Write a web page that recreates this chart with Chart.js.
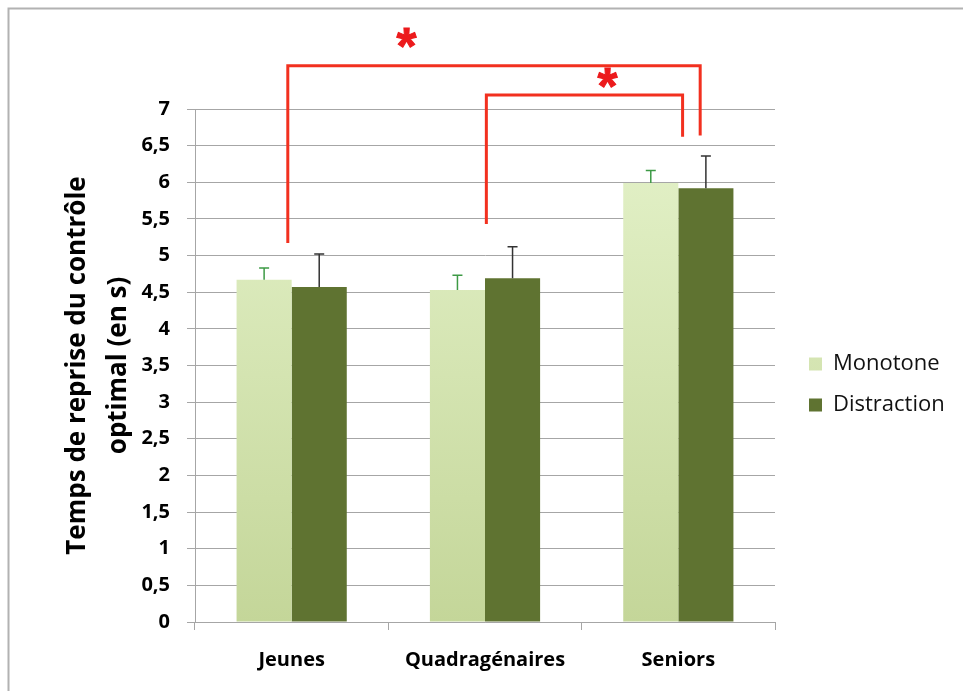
<!DOCTYPE html>
<html>
<head>
<meta charset="utf-8">
<script src="https://cdn.jsdelivr.net/npm/chart.js@4.4.1/dist/chart.umd.min.js"></script>
<style>
  html, body { margin: 0; padding: 0; background: #ffffff; }
  canvas { display: block; }
</style>
</head>
<body>
<canvas id="chart" width="963" height="691"></canvas>
<script>
// Group means and upper error (SEM) for the two listening conditions
const categories = ['Jeunes', 'Quadragénaires', 'Seniors'];
const seriesNames = ['Monotone', 'Distraction'];
const monotone = [4.67, 4.53, 5.99];
const distraction = [4.57, 4.69, 5.92];
const monotoneErr = [0.16, 0.20, 0.17];
const distractionErr = [0.45, 0.43, 0.44];
const yTitle = ['Temps de reprise du contrôle', 'optimal (en s)'];
const yMin = 0, yMax = 7, yStep = 0.5;

// Significance brackets, in category-index / value units
const bracketFrom = [-0.02, 1.007];
const bracketTo = [2.113, 2.022];
const bracketFromY = [5.17, 5.43];
const bracketTopY = [7.59, 7.19];
const bracketToY = [6.64, 6.62];
const starX = [0.594, 1.634];
const starY = [7.97, 7.42];
const starText = '*';

const FONT = '"Open Sans", "Liberation Sans", sans-serif';
const LEGEND_FONT_SIZE = 22;
const LEGEND_BOX = 13;
const LEGEND_PAD = 19;

// Width the legend will claim, so the plot can end at a fixed right edge
function legendWidth() {
  const c = document.createElement('canvas').getContext('2d');
  c.font = LEGEND_FONT_SIZE + 'px ' + FONT;
  const w = Math.max(...seriesNames.map(s => c.measureText(s).width));
  return LEGEND_PAD + LEGEND_BOX + LEGEND_FONT_SIZE / 2 + w + 10;
}
const PLOT_RIGHT = 775;
const padRight = 963 - PLOT_RIGHT - legendWidth();

function lightFill(context) {
  const area = context.chart.chartArea;
  if (!area) return '#d4e5ae';
  const g = context.chart.ctx.createLinearGradient(0, area.top, 0, area.bottom);
  g.addColorStop(0, '#e5f3cb');
  g.addColorStop(1, '#c4d699');
  return g;
}

const framePlugin = {
  id: 'frame',
  beforeDraw(chart) {
    const ctx = chart.ctx;
    ctx.save();
    ctx.fillStyle = '#ffffff';
    ctx.fillRect(0, 0, chart.width, chart.height);
    ctx.strokeStyle = '#b2b2b2';
    ctx.lineWidth = 2;
    ctx.beginPath();
    ctx.moveTo(8.5, chart.height);
    ctx.lineTo(8.5, 8.5);
    ctx.lineTo(chart.width, 8.5);
    ctx.stroke();
    ctx.restore();
  }
};

// Place the legend column beside the plot
const legendPlacePlugin = {
  id: 'legendPlace',
  afterLayout(chart) {
    const lg = chart.legend;
    if (!lg) return;
    const dx = 809 - (lg.left + LEGEND_PAD);
    lg.left += dx; lg.right += dx;
    const h = lg.bottom - lg.top;
    lg.top = 384.5 - h / 2;
    lg.bottom = lg.top + h;
  }
};

const errorBarPlugin = {
  id: 'errorBars',
  afterDatasetsDraw(chart) {
    const ctx = chart.ctx;
    const y = chart.scales.y;
    const specs = [
      { ds: 0, err: monotoneErr, color: '#3d9a45' },
      { ds: 1, err: distractionErr, color: '#333333' }
    ];
    ctx.save();
    ctx.lineWidth = 1.5;
    specs.forEach(s => {
      const meta = chart.getDatasetMeta(s.ds);
      const values = chart.data.datasets[s.ds].data;
      ctx.strokeStyle = s.color;
      meta.data.forEach((bar, i) => {
        const top = y.getPixelForValue(values[i] + s.err[i]);
        ctx.beginPath();
        ctx.moveTo(bar.x, bar.y);
        ctx.lineTo(bar.x, top);
        ctx.moveTo(bar.x - 5, top);
        ctx.lineTo(bar.x + 5, top);
        ctx.stroke();
      });
    });
    ctx.restore();
  }
};

const bracketPlugin = {
  id: 'brackets',
  afterDatasetsDraw(chart) {
    const ctx = chart.ctx;
    const x = chart.scales.x, y = chart.scales.y;
    ctx.save();
    ctx.strokeStyle = '#f2301f';
    ctx.lineWidth = 3;
    ctx.lineJoin = 'miter';
    ctx.lineCap = 'butt';
    bracketFrom.forEach((f, i) => {
      const x1 = x.getPixelForValue(f), x2 = x.getPixelForValue(bracketTo[i]);
      const yTop = y.getPixelForValue(bracketTopY[i]);
      ctx.beginPath();
      ctx.moveTo(x1, y.getPixelForValue(bracketFromY[i]));
      ctx.lineTo(x1, yTop);
      ctx.lineTo(x2, yTop);
      ctx.lineTo(x2, y.getPixelForValue(bracketToY[i]));
      ctx.stroke();
    });
    // asterisks, sized and centred on their ink box
    const starFont = '"Liberation Sans", sans-serif';
    ctx.fillStyle = '#ec1a1c';
    ctx.strokeStyle = '#ec1a1c';
    ctx.lineWidth = 1;
    ctx.font = 'bold 100px ' + starFont;
    let m = ctx.measureText(starText);
    const size = 100 * 20 / (m.actualBoundingBoxLeft + m.actualBoundingBoxRight);
    ctx.font = 'bold ' + size.toFixed(1) + 'px ' + starFont;
    m = ctx.measureText(starText);
    ctx.textAlign = 'left';
    ctx.textBaseline = 'alphabetic';
    starX.forEach((sx, i) => {
      const cx = x.getPixelForValue(sx), cy = y.getPixelForValue(starY[i]);
      const w = m.actualBoundingBoxLeft + m.actualBoundingBoxRight;
      const h = m.actualBoundingBoxAscent + m.actualBoundingBoxDescent;
      const tx = cx - w / 2 + m.actualBoundingBoxLeft;
      const ty = cy + h / 2 - m.actualBoundingBoxDescent;
      ctx.fillText(starText, tx, ty);
      ctx.strokeText(starText, tx, ty);
    });
    ctx.restore();
  }
};

new Chart(document.getElementById('chart'), {
  type: 'bar',
  data: {
    labels: categories,
    datasets: [
      {
        label: seriesNames[0],
        data: monotone,
        backgroundColor: lightFill,
        borderWidth: 0,
        categoryPercentage: 0.57,
        barPercentage: 1.0
      },
      {
        label: seriesNames[1],
        data: distraction,
        backgroundColor: '#5f7331',
        borderWidth: 0,
        categoryPercentage: 0.57,
        barPercentage: 1.0
      }
    ]
  },
  options: {
    responsive: false,
    animation: false,
    devicePixelRatio: 1,
    layout: { padding: { top: 109, left: 20, bottom: 19, right: padRight } },
    plugins: {
      tooltip: { enabled: false },
      legend: {
        position: 'right',
        align: 'center',
        labels: {
          boxWidth: LEGEND_BOX,
          boxHeight: LEGEND_BOX,
          padding: LEGEND_PAD,
          color: '#111111',
          font: { family: FONT, size: LEGEND_FONT_SIZE }
        }
      }
    },
    scales: {
      x: {
        offset: true,
        grid: { display: true, drawOnChartArea: false, tickLength: 8, color: '#a6a6a6' },
        border: { color: '#a6a6a6' },
        ticks: { color: '#000000', padding: 18, font: { family: FONT, size: 20, weight: 'bold' } },
        afterFit(scale) { scale.height = 50; }
      },
      y: {
        min: yMin,
        max: yMax,
        ticks: {
          stepSize: yStep,
          color: '#000000',
          padding: 17,
          font: { family: FONT, size: 20, weight: 'bold' },
          callback: v => String(v).replace('.', ',')
        },
        grid: { color: '#a6a6a6', tickLength: 8 },
        border: { color: '#a6a6a6' },
        title: {
          display: true,
          text: yTitle,
          color: '#000000',
          padding: { top: 37, bottom: 0 },
          font: { family: FONT, size: 26, weight: 'bold', lineHeight: 1.58 }
        },
        afterFit(scale) { scale.width = 175; }
      }
    }
  },
  plugins: [framePlugin, legendPlacePlugin, errorBarPlugin, bracketPlugin]
});
</script>
</body>
</html>
